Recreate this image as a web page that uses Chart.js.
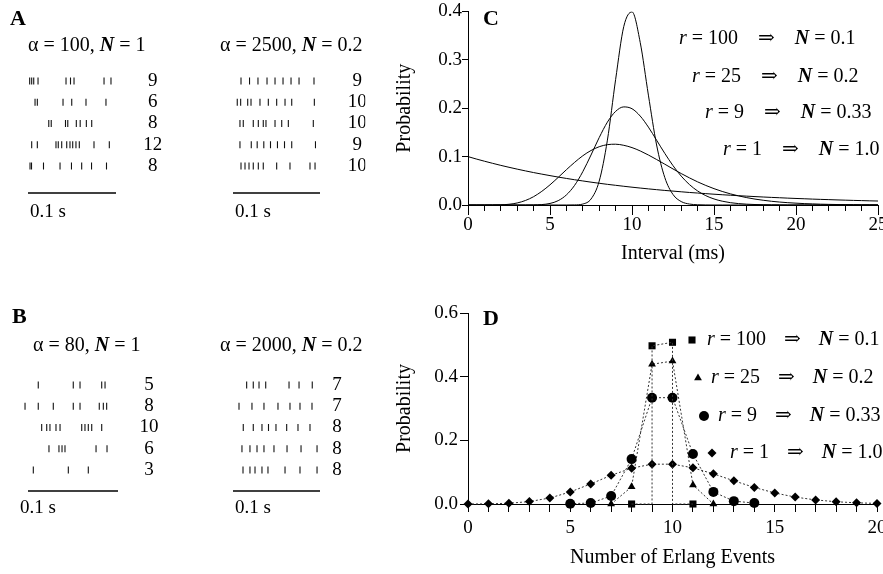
<!DOCTYPE html>
<html><head><meta charset="utf-8">
<script src="https://cdn.jsdelivr.net/npm/chart.js@4.4.1/dist/chart.umd.min.js"></script>
<style>
html,body{margin:0;padding:0;background:#fff}
body{width:883px;height:574px;position:relative;overflow:hidden}
canvas{position:absolute;display:block}
</style></head><body>
<canvas id="cA1"></canvas><canvas id="cA2"></canvas><canvas id="cB1"></canvas><canvas id="cB2"></canvas><canvas id="cC"></canvas><canvas id="cD"></canvas>
<script>
// ---------------- DATA ----------------
// Panels A/B: spike times (ms) per trial row, and spike counts shown at right
const spikesA1 = [
  [1.9, 4.2, 6.5, 11.4, 43.2, 48.3, 52.3, 86.4, 94.3],
  [8.0, 10.6, 39.8, 49.7, 65.9, 88.6],
  [23.6, 26.4, 42.6, 45.2, 54.9, 59.3, 66.3, 72.4],
  [4.2, 10.6, 31.8, 34.4, 38.3, 44.0, 47.7, 50.8, 54.5, 58.3, 75.0, 92.4],
  [2.3, 4.0, 17.6, 36.4, 49.4, 61.0, 72.2, 89.2]
];
const countsA1 = ['9', '6', '8', '12', '8'];
const spikesA2 = [
  [9.2, 19.0, 28.7, 39.1, 48.3, 57.5, 66.7, 75.9, 93.1],
  [4.9, 8.8, 16.9, 20.7, 31.0, 40.6, 50.2, 59.8, 67.5, 93.5],
  [8.0, 11.8, 23.3, 29.1, 34.8, 37.9, 48.3, 56.0, 63.6, 92.3],
  [8.0, 21.0, 27.8, 35.4, 43.1, 51.1, 59.2, 67.5, 94.8],
  [9.2, 13.8, 18.4, 23.3, 29.1, 34.8, 50.2, 65.5, 88.5, 94.3]
];
const countsA2 = ['9', '10', '10', '9', '10'];
const spikesB1 = [
  [11.4, 50.3, 57.8, 81.9, 85.6],
  [-3.3, 11.4, 28.1, 50.3, 57.8, 79.2, 83.7, 87.4],
  [15.2, 20.8, 24.4, 31.1, 35.6, 59.7, 63.3, 67.0, 70.8, 81.9],
  [23.3, 34.4, 37.8, 41.1, 75.6, 87.8],
  [5.9, 44.8, 67.0]
];
const countsB1 = ['5', '8', '10', '6', '3'];
const spikesB2 = [
  [15.7, 23.3, 29.9, 37.6, 64.4, 75.9, 91.1],
  [6.9, 21.8, 35.6, 51.7, 65.5, 77.0, 90.8],
  [11.8, 23.3, 33.3, 40.8, 49.4, 61.7, 74.7, 88.5],
  [10.3, 19.5, 27.6, 35.6, 47.1, 62.1, 78.2, 96.6],
  [11.5, 19.5, 25.3, 33.3, 40.2, 59.8, 77.0, 96.6]
];
const countsB2 = ['7', '7', '8', '8', '8'];
const rasterAlpha = ['100', '2500', '80', '2000'];
const rasterN = ['1', '0.2', '1', '0.2'];

// Panel C: interval distributions
const intervalMs = [0,0.5,1,1.5,2,2.5,3,3.5,4,4.5,5,5.5,6,6.5,7,7.5,8,8.5,9,9.5,10,10.5,11,11.5,12,12.5,13,13.5,14,14.5,15,15.5,16,16.5,17,17.5,18,18.5,19,19.5,20,20.5,21,21.5,22,22.5,23,23.5,24,24.5,25];
const probR100 = [0,0,0,0,0,0,0,0,0,0,0,0,0.0000,0.0002,0.0020,0.0123,0.0493,0.1340,0.2590,0.3690,0.3990,0.3360,0.2270,0.1240,0.0567,0.0217,0.0071,0.0020,0.0005,0.0001,0,0,0,0,0,0,0,0,0,0,0,0,0,0,0,0,0,0,0,0,0];
const probR25 = [0,0,0,0,0,0,0,0,0.0002,0.0009,0.0032,0.0090,0.0208,0.0406,0.0689,0.1033,0.1393,0.1712,0.1934,0.2027,0.1989,0.1838,0.1609,0.1339,0.1066,0.0813,0.0597,0.0423,0.0290,0.0193,0.0125,0.0079,0.0048,0.0029,0.0017,0.0010,0.0006,0.0003,0.0002,0,0,0,0,0,0,0,0,0,0,0,0];
const probR9 = [0,0,0,0.0001,0.0004,0.0015,0.0042,0.0093,0.0172,0.0282,0.0417,0.0570,0.0729,0.0881,0.1017,0.1126,0.1204,0.1247,0.1256,0.1233,0.1186,0.1117,0.1033,0.0940,0.0843,0.0745,0.0650,0.0561,0.0478,0.0404,0.0338,0.0280,0.0230,0.0188,0.0152,0.0122,0.0098,0.0077,0.0061,0.0048,0.0038,0.0029,0.0023,0.0017,0.0013,0.0010,0.0008,0.0006,0.0004,0.0003,0.0003];
const probR1 = [0.1000,0.0951,0.0905,0.0861,0.0819,0.0779,0.0741,0.0705,0.0670,0.0638,0.0607,0.0577,0.0549,0.0522,0.0497,0.0472,0.0449,0.0427,0.0407,0.0387,0.0368,0.0350,0.0333,0.0317,0.0301,0.0287,0.0273,0.0259,0.0247,0.0235,0.0223,0.0212,0.0202,0.0192,0.0183,0.0174,0.0165,0.0157,0.0150,0.0142,0.0135,0.0129,0.0122,0.0116,0.0111,0.0105,0.0100,0.0095,0.0091,0.0086,0.0082];

// Panel D: count distributions
const countsR1 = [0,1,2,3,4,5,6,7,8,9,10,11,12,13,14,15,16,17,18,19,20];
const probCountR1 = [0.0000,0.0005,0.0023,0.0076,0.0189,0.0378,0.0631,0.0901,0.1126,0.1251,0.1251,0.1137,0.0948,0.0729,0.0521,0.0347,0.0217,0.0128,0.0071,0.0037,0.0019];
const countsR9 = [5,6,7,8,9,10,11,12,13,14];
const probCountR9 = [0.001,0.003,0.025,0.141,0.334,0.334,0.157,0.038,0.009,0.003];
const countsR25 = [7,8,9,10,11,12];
const probCountR25 = [0.000,0.054,0.439,0.449,0.060,0.000];
const countsR100 = [8,9,10,11];
const probCountR100 = [0.000,0.497,0.508,0.000];

// Legend labels
const legendR = ['100', '25', '9', '1'];
const legendN = ['0.1', '0.2', '0.33', '1.0'];

// ---------------- HELPERS ----------------
const SERIF = '"Liberation Serif", "Times New Roman", "DejaVu Serif", serif';
Chart.defaults.font.family = SERIF;
Chart.defaults.color = '#000';
function f(sz, style) { return (style ? style + ' ' : '') + sz + 'px ' + SERIF; }

function place(id, left, top, w, h) {
  const c = document.getElementById(id);
  c.width = w; c.height = h;
  c.style.left = left + 'px'; c.style.top = top + 'px';
  c.style.width = w + 'px'; c.style.height = h + 'px';
  return c;
}
function drawRich(ctx, x, y, parts) {
  ctx.save();
  ctx.textBaseline = 'middle'; ctx.textAlign = 'left'; ctx.fillStyle = '#000';
  let cx = x;
  for (const p of parts) {
    if (p.gap) { cx += p.gap; continue; }
    ctx.font = p.font; ctx.fillText(p.t, cx, y); cx += ctx.measureText(p.t).width;
  }
  ctx.restore();
}
function drawLetter(ctx, letter, x, y) {
  ctx.save();
  ctx.font = f(22, 'bold'); ctx.fillStyle = '#000';
  ctx.textBaseline = 'alphabetic'; ctx.textAlign = 'left';
  ctx.fillText(letter, x, y);
  ctx.restore();
}
function legendParts(rv, nv, gap, sz) {
  return [
    {t: 'r', font: f(sz, 'italic')}, {t: ' = ' + rv, font: f(sz)}, {gap: gap},
    {t: '\u21D2', font: f(sz)}, {gap: gap},
    {t: 'N', font: f(sz, 'italic bold')}, {t: ' = ' + nv, font: f(sz)}
  ];
}

// ---------------- RASTERS ----------------
const rasterPlugin = {
  id: 'rasterDeco',
  afterDraw(chart, args, o) {
    const ctx = chart.ctx, xs = chart.scales.x;
    if (o.letter) drawLetter(ctx, o.letter, o.letterX, o.letterY);
    drawRich(ctx, o.titleX, o.titleY, [
      {t: '\u03B1 = ' + o.alpha + ', ', font: f(20)},
      {t: 'N', font: f(20, 'italic bold')},
      {t: ' = ' + o.nval, font: f(20)}
    ]);
    ctx.save();
    ctx.strokeStyle = '#000'; ctx.lineWidth = 1.5;
    ctx.beginPath();
    ctx.moveTo(xs.getPixelForValue(0), o.barY);
    ctx.lineTo(xs.getPixelForValue(100), o.barY);
    ctx.stroke();
    ctx.font = f(19); ctx.fillStyle = '#000'; ctx.textBaseline = 'middle'; ctx.textAlign = 'left';
    ctx.fillText('0.1 s', o.labelX, o.labelY);
    ctx.restore();
  }
};

function makeRaster(id, g, spikes, counts, alpha, nval) {
  const cv = place(id, g.left, g.top, g.w, g.h);
  const xMin = -6, xMax = 106, yW = 40;
  const chartL = g.bar0 + xMin * g.ppm, chartR = g.bar0 + xMax * g.ppm;
  const sp = (g.rowLast - g.rowFirst) / 4;
  const chartT = g.rowFirst - sp / 2, chartB = g.rowLast + sp / 2;
  const pts = [];
  spikes.forEach((row, i) => row.forEach(t => pts.push({x: t, y: i + 1})));
  new Chart(cv, {
    type: 'scatter',
    data: {datasets: [{data: pts, pointStyle: 'line', rotation: 90, pointRadius: 3.5,
      pointBorderWidth: 1.1, pointBorderColor: '#111', pointBackgroundColor: '#111', clip: false}]},
    options: {
      responsive: false, animation: false, events: [],
      layout: {padding: {left: chartL - g.left, right: g.left + g.w - chartR - yW, top: chartT - g.top, bottom: g.top + g.h - chartB}},
      plugins: {legend: {display: false}, tooltip: {enabled: false},
        rasterDeco: {letter: g.letter, letterX: g.letterX - g.left, letterY: g.letterY - g.top,
          alpha: alpha, nval: nval, titleX: g.titleX - g.left, titleY: g.titleY - g.top,
          barY: g.barY - g.top, labelX: g.labelX - g.left, labelY: g.labelY - g.top}},
      scales: {
        x: {type: 'linear', display: false, min: xMin, max: xMax},
        y: {type: 'linear', position: 'right', min: 0.5, max: 5.5, reverse: true,
          afterFit: s => { s.width = yW; },
          afterBuildTicks: s => { s.ticks = counts.map((c, i) => ({value: i + 1})); },
          grid: {display: false, drawTicks: false}, border: {display: false},
          ticks: {padding: g.cpad, crossAlign: 'center', color: '#000', font: {size: 19},
            callback: (v, i) => counts[i]}}
      }
    },
    plugins: [rasterPlugin]
  });
}

makeRaster('cA1', {left: 0, top: 0, w: 195, h: 230, bar0: 28, ppm: 0.88, rowFirst: 81, rowLast: 166,
  barY: 193, labelX: 30, labelY: 212, cpad: 22, titleX: 28, titleY: 46, letter: 'A', letterX: 10, letterY: 25},
  spikesA1, countsA1, rasterAlpha[0], rasterN[0]);
makeRaster('cA2', {left: 200, top: 0, w: 195, h: 230, bar0: 233, ppm: 0.87, rowFirst: 81, rowLast: 166,
  barY: 193, labelX: 235, labelY: 212, cpad: 22.6, titleX: 220, titleY: 46},
  spikesA2, countsA2, rasterAlpha[1], rasterN[1]);
makeRaster('cB1', {left: 0, top: 280, w: 195, h: 294, bar0: 28, ppm: 0.9, rowFirst: 385, rowLast: 470,
  barY: 491, labelX: 20, labelY: 508, cpad: 16, titleX: 33, titleY: 346, letter: 'B', letterX: 12, letterY: 323},
  spikesB1, countsB1, rasterAlpha[2], rasterN[2]);
makeRaster('cB2', {left: 200, top: 280, w: 195, h: 294, bar0: 233, ppm: 0.87, rowFirst: 385, rowLast: 470,
  barY: 491, labelX: 235, labelY: 508, cpad: 7, titleX: 220, titleY: 346},
  spikesB2, countsB2, rasterAlpha[3], rasterN[3]);

// ---------------- PANEL C ----------------
const panelPlugin = {
  id: 'panelDeco',
  afterDraw(chart, args, o) {
    const ctx = chart.ctx;
    if (o.majorEvery) {
      const xs = chart.scales.x;
      ctx.save(); ctx.strokeStyle = '#000'; ctx.lineWidth = 1;
      for (let v = xs.min; v <= xs.max; v += o.majorEvery) {
        const px = Math.round(xs.getPixelForValue(v)) + 0.5;
        ctx.beginPath(); ctx.moveTo(px, chart.chartArea.bottom); ctx.lineTo(px, chart.chartArea.bottom + o.majorLen); ctx.stroke();
      }
      ctx.restore();
    }
    drawLetter(ctx, o.letter, o.letterX, o.letterY);
    for (let i = 0; i < legendR.length; i++) {
      const y = o.rowY[i];
      if (o.markers) {
        ctx.save(); ctx.fillStyle = '#000'; ctx.strokeStyle = '#000';
        Chart.helpers.drawPoint(ctx, {pointStyle: o.markers[i], radius: o.markerR[i], rotation: 0, borderWidth: 0}, o.markerX[i], y);
        ctx.restore();
      }
      drawRich(ctx, o.textX[i], y, legendParts(legendR[i], legendN[i], o.gap, 20));
    }
  }
};

function axisCommon(tickLen, pad) {
  return {
    grid: {drawOnChartArea: false, drawTicks: true, tickLength: tickLen, color: '#000', tickColor: '#000', tickWidth: 1},
    border: {display: true, color: '#000', width: 1}
  };
}
const cC = place('cC', 380, 0, 520, 275);
function cLine(arr) {
  return {data: intervalMs.map((x, i) => ({x: x, y: arr[i]})), borderColor: '#000', borderWidth: 1,
    pointRadius: 0, cubicInterpolationMode: 'monotone', fill: false};
}
new Chart(cC, {
  type: 'line',
  data: {datasets: [cLine(probR100), cLine(probR25), cLine(probR9), cLine(probR1)]},
  options: {
    responsive: false, animation: false, events: [],
    layout: {padding: {left: 0, top: 11, right: 22, bottom: 0}},
    plugins: {legend: {display: false}, tooltip: {enabled: false},
      panelDeco: {majorEvery: 5, majorLen: 10, letter: 'C', letterX: 103, letterY: 25,
        rowY: [39, 77, 113, 150], textX: [299, 312, 325, 343], gap: 20}},
    scales: {
      x: Object.assign(axisCommon(6), {type: 'linear', min: 0, max: 25,
        afterFit: s => { s.height = 70; },
        ticks: {stepSize: 1, autoSkip: false, maxRotation: 0, padding: 3, color: '#000', font: {size: 19},
          callback: v => (v % 5 === 0 ? String(v) : '')},
        title: {display: true, text: 'Interval (ms)', color: '#000', font: {size: 20}, padding: {top: 0, bottom: 9}}}),
      y: Object.assign(axisCommon(6), {type: 'linear', min: 0, max: 0.4,
        afterFit: s => { s.width = 88; },
        ticks: {stepSize: 0.1, padding: 0, color: '#000', font: {size: 19}, callback: v => v.toFixed(1)},
        title: {display: true, text: 'Probability', color: '#000', font: {size: 20}, padding: {top: 13, bottom: 0}}})
    }
  },
  plugins: [panelPlugin]
});

// ---------------- PANEL D ----------------
function dropPath(xs, ys) {
  const out = [];
  for (let i = 0; i < xs.length; i++) {
    const prevZero = i === 0 || ys[i - 1] === 0;
    const nextZero = i === xs.length - 1 || ys[i + 1] === 0;
    if (ys[i] > 0 && prevZero) out.push({x: xs[i], y: 0});
    out.push({x: xs[i], y: ys[i]});
    if (ys[i] > 0 && nextZero) out.push({x: xs[i], y: 0});
  }
  return out;
}
function dSeries(xs, ys, style, r, showLine) {
  return {data: xs.map((x, i) => ({x: x, y: ys[i]})), showLine: showLine, borderColor: '#333', borderWidth: 1,
    borderDash: [2, 2], pointStyle: style, pointRadius: r, pointBackgroundColor: '#000', pointBorderColor: '#000',
    pointBorderWidth: 0, clip: false, fill: false};
}
const cD = place('cD', 380, 280, 520, 294);
new Chart(cD, {
  type: 'scatter',
  data: {datasets: [
    {data: dropPath(countsR100, probCountR100), showLine: true, borderColor: '#333', borderWidth: 1,
      borderDash: [2, 2], pointRadius: 0, clip: false, fill: false},
    dSeries(countsR1, probCountR1, 'rectRot', 4.5, true),
    dSeries(countsR9, probCountR9, 'circle', 5, true),
    dSeries(countsR25, probCountR25, 'triangle', 4.5, true),
    dSeries(countsR100, probCountR100, 'rect', 5, false)
  ]},
  options: {
    responsive: false, animation: false, events: [],
    layout: {padding: {left: 0, top: 33, right: 23, bottom: 0}},
    plugins: {legend: {display: false}, tooltip: {enabled: false},
      panelDeco: {letter: 'D', letterX: 103, letterY: 45, rowY: [60, 98, 136, 173],
        markers: ['rect', 'triangle', 'circle', 'rectRot'], markerR: [5, 4.5, 5, 4.5],
        markerX: [312, 318, 324, 332], textX: [327, 331, 338, 350], gap: 18}},
    scales: {
      x: Object.assign(axisCommon(8), {type: 'linear', min: 0, max: 20,
        afterFit: s => { s.height = 70; },
        ticks: {stepSize: 1, autoSkip: false, maxRotation: 0, padding: 5, color: '#000', font: {size: 19},
          callback: v => (v % 5 === 0 ? String(v) : '')},
        title: {display: true, text: 'Number of Erlang Events', color: '#000', font: {size: 20}, padding: {top: 0, bottom: 4}}}),
      y: Object.assign(axisCommon(8), {type: 'linear', min: 0, max: 0.6,
        afterFit: s => { s.width = 88; },
        ticks: {stepSize: 0.2, padding: 2, color: '#000', font: {size: 19}, callback: v => v.toFixed(1)},
        title: {display: true, text: 'Probability', color: '#000', font: {size: 20}, padding: {top: 13, bottom: 0}}})
    }
  },
  plugins: [panelPlugin]
});
</script>
</body></html>
